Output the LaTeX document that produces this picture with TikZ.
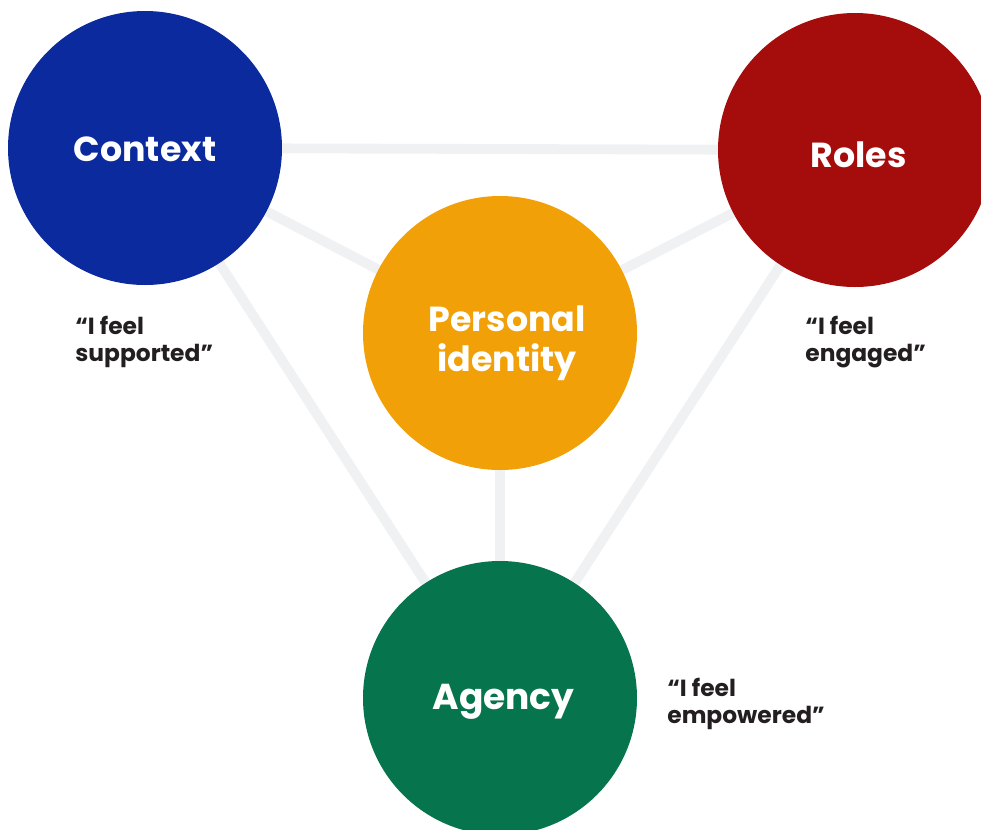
\documentclass[tikz,border=0pt]{standalone}
\usepackage{fontspec}
\setmainfont{Poppins}
\usepackage{tikz}
\usetikzlibrary{backgrounds}

\definecolor{ctxblue}{HTML}{0A2A9E}
\definecolor{rolered}{HTML}{A50C0C}
\definecolor{idorange}{HTML}{F1A007}
\definecolor{aggreen}{HTML}{06744C}
\definecolor{linkgray}{HTML}{EFF1F3}
\definecolor{quotedark}{HTML}{231F20}

\tikzset{
  blob/.style={circle,minimum size=274*0.02cm,inner sep=0pt,text=white,
    font=\fontsize{19.8}{22}\selectfont\bfseries,align=center},
  link/.style={draw=linkgray,line width=5.6pt},
  quote/.style={anchor=north west,text=quotedark,inner sep=0pt,align=left,
    font=\fontsize{13.3}{15.5}\selectfont\bfseries}
}
\newcommand{\lowered}[2]{\raisebox{-#1}[\height][\depth]{#2}}

\begin{document}
\begin{tikzpicture}[x=0.02cm,y=-0.02cm]
\useasboundingbox (0,0) rectangle (981,829);
\clip (0,0) rectangle (981,829);
\node[blob,fill=ctxblue] (context) at (145,148) {\lowered{1pt}{Context}};
\node[blob,fill=rolered] (roles) at (855,150) {\lowered{2.8pt}{\hspace{4pt}Roles}};
\node[blob,fill=idorange] (identity) at (500,333) {\lowered{6pt}{\begin{tabular}{@{}c@{}}\hspace{8pt}Personal\\[0pt]\hspace{8pt}identity\end{tabular}}};
\node[blob,fill=aggreen] (agency) at (500,698) {\lowered{2.3pt}{\hspace{4pt}\fontsize{20.5}{22}\selectfont Agency}};
\begin{pgfonlayer}{background}
\draw[link] (context.center) -- (roles.center);
\draw[link] (context.center) -- (identity.center);
\draw[link] (roles.center) -- (identity.center);
\draw[link] (context.center) -- (agency.center);
\draw[link] (roles.center) -- (agency.center);
\draw[link] (identity.center) -- (agency.center);
\end{pgfonlayer}
\node[quote] (supported) at (75,316) {“I feel\\supported”};
\node[quote] (engaged) at (805,316) {“I feel\\engaged”};
\node[quote] (empowered) at (667,678) {“I feel\\empowered”};
\end{tikzpicture}
\end{document}
